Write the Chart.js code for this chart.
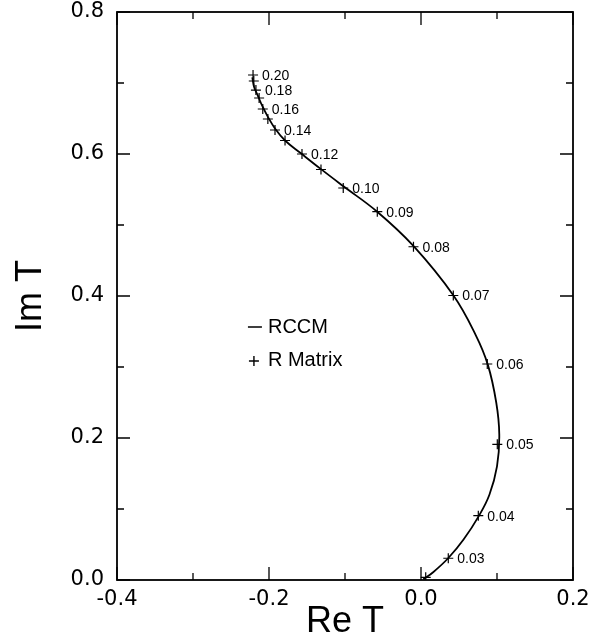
<!DOCTYPE html>
<html>
<head>
<meta charset="utf-8">
<script src="https://cdn.jsdelivr.net/npm/chart.js@4.4.1/dist/chart.umd.min.js"></script>
<style>
  html, body { margin: 0; padding: 0; background: #fff; }
  #wrap { width: 616px; height: 639px; position: relative; }
</style>
</head>
<body>
<div id="wrap"><canvas id="chart"></canvas></div>
<script>
// RCCM curve (solid line)
const rccmRe = [-0.2220, -0.2195, -0.2150, -0.2090, -0.2013, -0.1921, -0.1789, -0.1580, -0.1320, -0.1020,
                -0.0580, -0.0100, 0.0425, 0.0720, 0.0880, 0.0990, 0.1030, 0.1000, 0.0900, 0.0760,
                0.0560, 0.0360, 0.0160, 0.0030];
const rccmIm = [0.708, 0.694, 0.683, 0.668, 0.652, 0.636, 0.619, 0.601, 0.579, 0.5545,
                0.5190, 0.4705, 0.401, 0.345, 0.303, 0.250, 0.205, 0.160, 0.120, 0.090,
                0.057, 0.031, 0.011, 0.001];

// R-matrix points (crosses), one per energy step
const rmatRe = [-0.2210, -0.2200, -0.2172, -0.2130, -0.2082, -0.2015, -0.1921, -0.1789, -0.1566, -0.1316,
                -0.1023, -0.0575, -0.0099, 0.0425, 0.0872, 0.1004, 0.0754, 0.0359, 0.0062];
const rmatIm = [0.7113, 0.7028, 0.6901, 0.6789, 0.6634, 0.6493, 0.6338, 0.6190, 0.6000, 0.5782,
                0.5521, 0.5187, 0.4694, 0.4007, 0.3042, 0.1911, 0.0906, 0.0306, 0.0038];
const rmatLabels = ['0.20', '', '0.18', '', '0.16', '', '0.14', '', '0.12', '',
                    '0.10', '0.09', '0.08', '0.07', '0.06', '0.05', '0.04', '0.03', ''];

const xMin = -0.4, xMax = 0.2, yMin = 0.0, yMax = 0.8;
const legendItems = ['RCCM', 'R Matrix'];

const toPts = (xs, ys) => xs.map((x, i) => ({ x: x, y: ys[i] }));
const fmt = v => (Math.round(v * 10) / 10).toFixed(1);
const isMajor = v => Math.abs(Math.round(v * 10)) % 2 === 0;

// frame, inward ticks on all four sides, point labels, legend
const decorations = {
    id: 'decorations',
    afterDraw(chart) {
        const ctx = chart.ctx;
        const a = chart.chartArea;
        const xs = chart.scales.x, ys = chart.scales.y;
        ctx.save();
        ctx.strokeStyle = '#000';
        ctx.lineWidth = 1.8;
        ctx.strokeRect(a.left, a.top, a.right - a.left, a.bottom - a.top);

        ctx.lineWidth = 1.3;
        ctx.beginPath();
        xs.ticks.forEach(t => {
            const px = xs.getPixelForValue(t.value);
            const len = isMajor(t.value) ? 13 : 7;
            ctx.moveTo(px, a.bottom); ctx.lineTo(px, a.bottom - len);
            ctx.moveTo(px, a.top); ctx.lineTo(px, a.top + len);
        });
        ys.ticks.forEach(t => {
            const py = ys.getPixelForValue(t.value);
            const len = isMajor(t.value) ? 13 : 7;
            ctx.moveTo(a.left, py); ctx.lineTo(a.left + len, py);
            ctx.moveTo(a.right, py); ctx.lineTo(a.right - len, py);
        });
        ctx.stroke();

        // energy labels next to the crosses
        const meta = chart.getDatasetMeta(1);
        ctx.fillStyle = '#000';
        ctx.font = '14px "Liberation Sans", Arial, sans-serif';
        ctx.textBaseline = 'middle';
        ctx.textAlign = 'left';
        meta.data.forEach((el, i) => {
            if (rmatLabels[i]) ctx.fillText(rmatLabels[i], el.x + 9, el.y + 1);
        });

        // legend inside the plot
        const w = a.right - a.left, h = a.bottom - a.top;
        const lx = a.left + w * 0.331;
        const y1 = a.top + h * 0.5546, y2 = a.top + h * 0.6144;
        ctx.font = '20px "Liberation Sans", Arial, sans-serif';
        ctx.fillText(legendItems[0], lx, y1);
        ctx.fillText(legendItems[1], lx, y2);
        ctx.lineWidth = 1.4;
        ctx.beginPath();
        ctx.moveTo(lx - 20, y1); ctx.lineTo(lx - 6, y1);
        ctx.moveTo(lx - 19, y2); ctx.lineTo(lx - 9, y2);
        ctx.moveTo(lx - 14, y2 - 5); ctx.lineTo(lx - 14, y2 + 5);
        ctx.stroke();
        ctx.restore();
    }
};

new Chart(document.getElementById('chart'), {
    type: 'scatter',
    data: {
        datasets: [
            {
                label: legendItems[0],
                data: toPts(rccmRe, rccmIm),
                showLine: true,
                borderColor: '#000',
                borderWidth: 1.8,
                tension: 0.4,
                pointRadius: 0,
                fill: false
            },
            {
                label: legendItems[1],
                data: toPts(rmatRe, rmatIm),
                showLine: false,
                pointStyle: 'cross',
                pointRadius: 5,
                borderColor: '#000',
                borderWidth: 1.2
            }
        ]
    },
    options: {
        responsive: true,
        maintainAspectRatio: false,
        animation: false,
        layout: { padding: { left: 0, top: 0, right: 43, bottom: 0 } },
        scales: {
            x: {
                type: 'linear',
                min: xMin,
                max: xMax,
                grid: { display: false, drawTicks: false },
                border: { display: false },
                ticks: {
                    stepSize: 0.1,
                    autoSkip: false,
                    maxRotation: 0,
                    padding: 7,
                    color: '#000',
                    font: { family: '"DejaVu Sans", sans-serif', size: 21 },
                    callback: v => isMajor(v) ? fmt(v) : ''
                },
                title: {
                    display: true,
                    text: 'Re T',
                    color: '#000',
                    font: { family: '"Liberation Sans", Arial, sans-serif', size: 36 },
                    padding: { top: 0, bottom: -5 }
                },
                afterFit: s => { s.height = 59; }
            },
            y: {
                type: 'linear',
                min: yMin,
                max: yMax,
                grid: { display: false, drawTicks: false },
                border: { display: false },
                ticks: {
                    stepSize: 0.1,
                    autoSkip: false,
                    padding: 13,
                    color: '#000',
                    font: { family: '"DejaVu Sans", sans-serif', size: 21 },
                    callback: v => isMajor(v) ? fmt(v) : ''
                },
                title: {
                    display: true,
                    text: 'Im T',
                    color: '#000',
                    font: { family: '"Liberation Sans", Arial, sans-serif', size: 36 },
                    padding: { top: 9, bottom: 0 }
                },
                afterFit: s => { s.width = 117; s.paddingTop = 12; }
            }
        },
        plugins: {
            legend: { display: false },
            tooltip: { enabled: false }
        }
    },
    plugins: [decorations]
});
</script>
</body>
</html>
